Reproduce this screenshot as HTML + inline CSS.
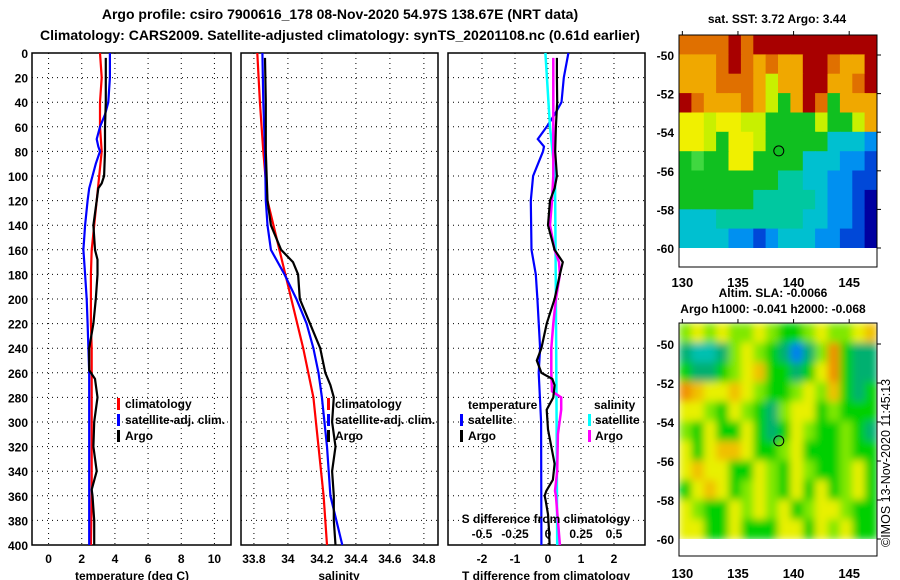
<!DOCTYPE html>
<html><head><meta charset="utf-8">
<style>
html,body{margin:0;padding:0;background:#fff;}
svg{display:block;font-family:"Liberation Sans",Arial,sans-serif;font-weight:bold;}
</style></head>
<body>
<svg id="fig" width="900" height="580" viewBox="0 0 900 580" xmlns="http://www.w3.org/2000/svg">
<text x="340" y="19" font-size="14" text-anchor="middle">Argo profile: csiro 7900616_178 08-Nov-2020 54.97S 138.67E (NRT data)</text>
<text x="340" y="40" font-size="14" text-anchor="middle">Climatology: CARS2009. Satellite-adjusted climatology: synTS_20201108.nc (0.61d earlier)</text>
<text x="777" y="23" font-size="12" text-anchor="middle">sat. SST: 3.72 Argo: 3.44</text>
<text x="773" y="297" font-size="12" text-anchor="middle">Altim. SLA: -0.0066</text>
<text x="773" y="313" font-size="12" text-anchor="middle">Argo h1000: -0.041 h2000: -0.068</text>
<text font-size="12.5" font-weight="normal" transform="translate(890,547) rotate(-90)">©IMOS 13-Nov-2020 11:45:13</text>
<g id="plots"></g>
</svg>
<script>
// ---------- data ----------
const depthTicks = [0,20,40,60,80,100,120,140,160,180,200,220,240,260,280,300,320,340,360,380,400];
const tempTicks = [0,2,4,6,8,10];
const salTicks = [33.8,34,34.2,34.4,34.6,34.8];
const salTickLabels = ["33.8","34","34.2","34.4","34.6","34.8"];
const tdiffTicks = [-2,-1,0,1,2];
const sdiffTicks = [-0.5,-0.25,0,0.25,0.5];
const sdiffTickLabels = ["-0.5","-0.25","0","0.25","0.5"];

const climTDepth = [0,20,40,60,80,100,120,140,160,180,200,220,240,300,360,400];
const climTValue = [3.1,3.2,3.1,3.1,3.2,3.05,2.9,2.75,2.6,2.55,2.55,2.55,2.6,2.6,2.6,2.55];
const satTDepth = [0,20,40,50,60,70,76,80,90,100,110,120,140,160,180,200,220,240,260,400];
const satTValue = [3.7,3.7,3.6,3.4,3.1,2.9,3.0,3.1,2.85,2.65,2.45,2.35,2.2,2.1,2.2,2.3,2.35,2.4,2.45,2.45];
const argoTDepth = [4,20,40,60,80,100,106,110,120,140,160,168,180,200,220,240,258,265,280,300,320,340,355,360,380,400];
const argoTValue = [3.45,3.45,3.45,3.4,3.4,3.35,3.2,3.0,2.9,2.7,2.8,2.95,2.95,2.85,2.7,2.45,2.45,2.8,2.95,2.75,2.7,2.9,2.6,2.65,2.75,2.75];

const climSDepth = [0,40,80,120,160,200,240,280,320,360,400];
const climSValue = [33.82,33.835,33.855,33.88,33.95,34.02,34.09,34.15,34.18,34.21,34.23];
const satSDepth = [0,40,80,120,140,160,180,200,220,240,260,280,320,360,400];
const satSValue = [33.85,33.855,33.865,33.87,33.88,33.9,33.98,34.05,34.11,34.15,34.18,34.2,34.23,34.25,34.32];
const argoSDepth = [4,40,80,120,140,160,170,180,200,220,240,260,270,280,300,320,340,360,380,400];
const argoSValue = [33.865,33.87,33.87,33.88,33.9,33.96,34.03,34.06,34.07,34.13,34.19,34.22,34.25,34.27,34.26,34.28,34.26,34.27,34.27,34.28];

const satTdDepth = [0,20,40,50,60,70,76,80,100,120,160,180,200,240,260,300,400];
const satTdValue = [0.62,0.48,0.41,0.2,-0.04,-0.31,-0.12,-0.15,-0.45,-0.52,-0.5,-0.37,-0.32,-0.24,-0.28,-0.21,-0.2];
const argoTdDepth = [4,20,40,60,80,100,110,120,140,160,170,180,200,220,240,250,260,265,270,280,290,306,320,334,347,356,360,364,375,388,400];
const argoTdValue = [0.27,0.27,0.28,0.24,0.22,0.27,0.2,0.06,0,0.2,0.45,0.36,0.2,-0.04,-0.2,-0.34,-0.2,0.13,0.2,0.16,-0.04,0,0.1,0.2,0.15,-0.05,-0.1,-0.07,0,0.03,0.05];
const satSdDepth = [0,60,100,200,300,400];
const satSdValue = [-0.02,0.015,0.053,0.06,0.065,0.07];
const argoSdDepth = [4,60,100,120,140,160,170,180,200,220,240,260,275,280,290,310,340,356,360,380,400];
const argoSdValue = [0.04,0.04,0.04,0.03,0.015,0.05,0.083,0.09,0.06,0.04,0.025,0.025,0.03,0.1,0.1,0.075,0.07,0.053,0.06,0.075,0.09];

// map colour grids (rows top->bottom)
const sstRows = [
"OOOORORRRRRRRRRR","oooOROoOooRROooR","oooOOOoyooRRooOR","ROoooOoyGoROGooo",
"YYyYYyyGGGGyGGyo","YYyGYYyGGGGGCCCB","GgGGYYGGGGCCCBBD","GGGGGGGGTTCCBBDD",
"GGGGGGTTTTTCBBDN","CCCTTTTTTTCCBBDN","CCCCBBDBCCCBBDDN"];
const slaRows = [
"gYgYggYgGGgYggYo","TCCTgYgGTBTgOGTT","GTTGgYoGGTGYOGTT","OoYYoYgGGgYgoGTG",
"YYgGYgGTgYYGgGGG","gGYGGYGTGYgGGgGT","YGYooYGGgYGGGgGG","YoYYGGYgGYgGGgYG",
"GYoYGgYgGYGYGgYG","YgGGYgYgYGgYYgGG","YYGGYGGGYYGYgYGG"];

// ---------- drawing ----------
const NS="http://www.w3.org/2000/svg";
const root=document.getElementById('plots');
function mk(tag,parent){const e=document.createElementNS(NS,tag);(parent||root).appendChild(e);return e;}
const Y0=53, Y1=545;
function yD(d){return Y0+(Y1-Y0)*d/400;}

function panel(name,left,right,xmin,xmax,ticks,labels,showDepth){
  const sx=v=>left+(right-left)*(v-xmin)/(xmax-xmin);
  const g=mk('g');
  
  
  depthTicks.forEach(d=>{
    const l=mk('line',g);
    
    
    l.setAttribute('x1',left);l.setAttribute('x2',right);l.setAttribute('y1',yD(d));l.setAttribute('y2',yD(d));
    l.setAttribute('stroke','#000');l.setAttribute('stroke-dasharray','1,4');l.setAttribute('stroke-width','1');
    if(showDepth){
      const t=mk('text',g);
      
      
      t.setAttribute('x',28);t.setAttribute('y',yD(d)+5);t.setAttribute('font-size','12');t.setAttribute('text-anchor','end');
      t.textContent=d;
    }
  });
  ticks.forEach((v,i)=>{
    const l=mk('line',g);
    
    
    l.setAttribute('x1',sx(v));l.setAttribute('x2',sx(v));l.setAttribute('y1',Y0);l.setAttribute('y2',Y1);
    l.setAttribute('stroke','#000');l.setAttribute('stroke-dasharray','1,4');
    const t=mk('text',g);
    
    
    t.setAttribute('x',sx(v));t.setAttribute('y',563);t.setAttribute('font-size','12');t.setAttribute('text-anchor','middle');
    t.textContent=labels?labels[i]:v;
  });
  const r=mk('rect',g);
  
  
  r.setAttribute('x',left);r.setAttribute('y',Y0);r.setAttribute('width',right-left);r.setAttribute('height',Y1-Y0);
  r.setAttribute('fill','none');r.setAttribute('stroke','#000');r.setAttribute('stroke-width','1.5');
  return {g,sx};
}
function series(p,name,depths,vals,color,sxf,w){
  const pl=mk('polyline',p.g);
  
  
  pl.setAttribute('points',depths.map((d,i)=>sxf(vals[i]).toFixed(1)+','+yD(d).toFixed(1)).join(' '));
  pl.setAttribute('fill','none');pl.setAttribute('stroke',color);pl.setAttribute('stroke-width',w||2.2);
}
function label(parent,name,x,y,txt,size,anchor){
  const t=mk('text',parent);
  
  
  t.setAttribute('x',x);t.setAttribute('y',y);t.setAttribute('font-size',size||12);
  if(anchor)t.setAttribute('text-anchor',anchor);
  t.textContent=txt;return t;
}
function bar(parent,name,x,y,color){
  const r=mk('rect',parent);
  
  
  r.setAttribute('x',x);r.setAttribute('y',y-11);r.setAttribute('width',3);r.setAttribute('height',12);r.setAttribute('fill',color);
}

// panel 1 temperature
const p1=panel('temperature-panel',32,231,-1,11,tempTicks,null,true);
series(p1,'climatology-temperature-line',climTDepth,climTValue,'#f00',p1.sx);
series(p1,'satellite-adj-temperature-line',satTDepth,satTValue,'#00f',p1.sx);
series(p1,'argo-temperature-line',argoTDepth,argoTValue,'#000',p1.sx);
label(p1.g,'temperature-axis-title',132,580,'temperature (deg C)',12,'middle');
bar(p1.g,'legend-climatology-swatch',117,409,'#f00');label(p1.g,'legend-climatology',125,408,'climatology');
bar(p1.g,'legend-satellite-swatch',117,425,'#00f');label(p1.g,'legend-satellite-adj',125,424,'satellite-adj. clim.');
bar(p1.g,'legend-argo-swatch',117,441,'#000');label(p1.g,'legend-argo',125,440,'Argo');

// panel 2 salinity
const p2=panel('salinity-panel',241,438,33.724,34.883,salTicks,salTickLabels,false);
series(p2,'climatology-salinity-line',climSDepth,climSValue,'#f00',p2.sx);
series(p2,'satellite-adj-salinity-line',satSDepth,satSValue,'#00f',p2.sx);
series(p2,'argo-salinity-line',argoSDepth,argoSValue,'#000',p2.sx);
label(p2.g,'salinity-axis-title',339,580,'salinity',12,'middle');
bar(p2.g,'legend-climatology-swatch',327,409,'#f00');label(p2.g,'legend-climatology',335,408,'climatology');
bar(p2.g,'legend-satellite-swatch',327,425,'#00f');label(p2.g,'legend-satellite-adj',335,424,'satellite-adj. clim.');
bar(p2.g,'legend-argo-swatch',327,441,'#000');label(p2.g,'legend-argo',335,440,'Argo');

// panel 3 differences
const p3=panel('difference-panel',448,645,-3.03,2.94,tdiffTicks,null,false);
const sxS=v=>548+132*v;
series(p3,'satellite-t-diff-line',satTdDepth,satTdValue,'#00f',p3.sx);
series(p3,'satellite-s-diff-line',satSdDepth,satSdValue,'#0ff',sxS,2.5);
series(p3,'argo-s-diff-line',argoSdDepth,argoSdValue,'#f0f',sxS,2.5);
series(p3,'argo-t-diff-line',argoTdDepth,argoTdValue,'#000',p3.sx);
label(p3.g,'t-diff-axis-title',546,580,'T difference from climatology',12,'middle');
label(p3.g,'s-diff-axis-title',546,523,'S difference from climatology',12,'middle');
sdiffTicks.forEach((v,i)=>{label(p3.g,'s-diff-tick-label',sxS(v),538,sdiffTickLabels[i],12,'middle');});
label(p3.g,'legend-temperature-header',468,409,'temperature');
bar(p3.g,'legend-sat-t-swatch',460,425,'#00f');label(p3.g,'legend-sat-t',468,424,'satellite');
bar(p3.g,'legend-argo-t-swatch',460,441,'#000');label(p3.g,'legend-argo-t',468,440,'Argo');
label(p3.g,'legend-salinity-header',594,409,'salinity');
bar(p3.g,'legend-sat-s-swatch',588,425,'#0ff');label(p3.g,'legend-sat-s',595,424,'satellite');
bar(p3.g,'legend-argo-s-swatch',588,441,'#f0f');label(p3.g,'legend-argo-s',595,440,'Argo');

// maps
const sstCol={R:'#a80000',O:'#e07000',o:'#f0a800',Y:'#f0f000',y:'#c8f000',G:'#10c020',g:'#40d840',T:'#00c8a0',C:'#00c0d0',B:'#0090f0',D:'#0048d8',N:'#0000a0'};
const slaCol={G:'#00d000',g:'#80e800',Y:'#e8f000',T:'#00b070',C:'#00c0b0',O:'#f09000',o:'#f0c000',B:'#0080f0'};
const defs=mk('defs');
const f=mk('filter',defs);f.setAttribute('id','blur');
const fb=mk('feGaussianBlur',f);fb.setAttribute('stdDeviation','4');fb.setAttribute('edgeMode','duplicate');
function map(name,rows,cols,top,blur){
  const left=679,right=877,lonMin=129.7,lonMax=147.5;
  const sx=v=>left+(right-left)*(v-lonMin)/(lonMax-lonMin);
  const sy=lat=>top.y50+(-50-lat)*top.k;
  const g=mk('g');
  
  
  const cp=mk('clipPath',defs);cp.setAttribute('id','clip-'+name);
  const cr=mk('rect',cp);cr.setAttribute('x',left);cr.setAttribute('y',top.frameTop);cr.setAttribute('width',right-left);cr.setAttribute('height',sy(-60)-top.frameTop);
  const outer=mk('g',g);
  outer.setAttribute('clip-path','url(#clip-'+name+')');
  const cells=mk('g',outer);
  
  
  if(blur)cells.setAttribute('filter','url(#blur)');
  const nr=rows.length,nc=rows[0].length;
  const cw=(right-left)/nc, y0=top.frameTop, ch=(sy(-60)-y0)/nr;
  rows.forEach((row,i)=>{[...row].forEach((c,j)=>{
    const r=mk('rect',cells);
    
    
    r.setAttribute('x',(left+j*cw).toFixed(1));r.setAttribute('y',(y0+i*ch).toFixed(1));
    r.setAttribute('width',(cw+0.6).toFixed(1));r.setAttribute('height',(ch+0.6).toFixed(1));r.setAttribute('fill',cols[c]);
  });});
  const fr=mk('rect',g);
  
  
  fr.setAttribute('x',left);fr.setAttribute('y',top.frameTop);fr.setAttribute('width',right-left);fr.setAttribute('height',top.bottom-top.frameTop);fr.setAttribute('fill','none');fr.setAttribute('stroke','#000');
  [-50,-52,-54,-56,-58,-60].forEach(lat=>{
    const l=mk('line',g);
    
    
    l.setAttribute('x1',right);l.setAttribute('x2',right+4);l.setAttribute('y1',sy(lat));l.setAttribute('y2',sy(lat));l.setAttribute('stroke','#000');
    label(g,'lat-tick-label',674,sy(lat)+5,String(lat),12,'end');
  });
  [130,135,140,145].forEach(lon=>{
    const l=mk('line',g);
    
    
    l.setAttribute('x1',sx(lon));l.setAttribute('x2',sx(lon));l.setAttribute('y1',top.frameTop-4);l.setAttribute('y2',top.frameTop);l.setAttribute('stroke','#000');
    label(g,'lon-tick-label',sx(lon),top.lonY,String(lon),13,'middle');
  });
  const c=mk('circle',g);
  
  
  c.setAttribute('cx',sx(138.67));c.setAttribute('cy',sy(-54.97));c.setAttribute('r',5);c.setAttribute('fill','none');c.setAttribute('stroke','#000');
}
map('sst-map',sstRows,sstCol,{y50:55,k:19.3,frameTop:35,bottom:267,lonY:287},false);
map('sla-map',slaRows,slaCol,{y50:344,k:19.5,frameTop:323,bottom:556,lonY:578},true);
</script>
</body></html>
